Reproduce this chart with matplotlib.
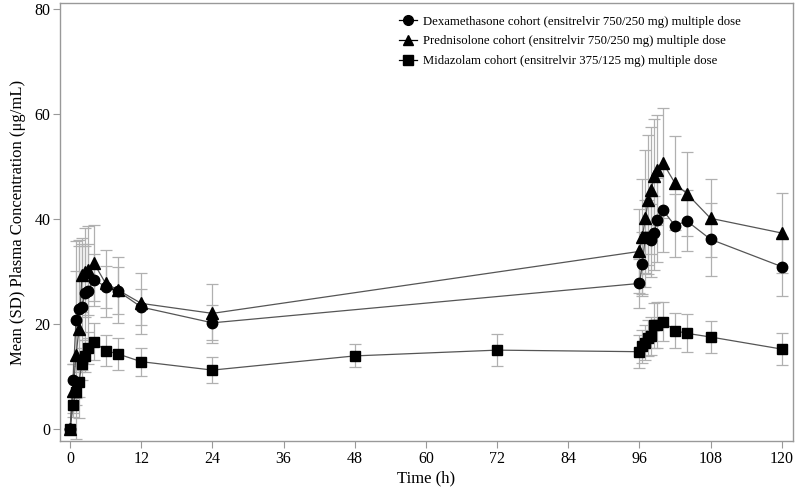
import matplotlib
matplotlib.use("Agg")
import matplotlib.pyplot as plt
from matplotlib.lines import Line2D

plt.rcParams['font.family'] = ['Liberation Serif', 'DejaVu Serif']

# Dexamethasone cohort
t_dex = [0, 0.5, 1, 1.5, 2, 2.5, 3, 4, 6, 8, 12, 24,
         96, 96.5, 97, 97.5, 98, 98.5, 99, 100, 102, 104, 108, 120]
m_dex = [0, 9.3, 20.8, 22.9, 23.3, 25.9, 26.3, 28.4, 27.1, 26.3, 23.2, 20.2,
         27.7, 31.4, 36.6, 36.5, 35.9, 37.3, 39.8, 41.6, 38.7, 39.6, 36.1, 30.9]
sd_dex = [0, 3, 15, 12, 12, 9, 9, 5, 4, 4.5, 3.5, 3.3,
          4.7, 6, 7, 7, 7, 7, 8, 8, 6, 5.8, 7, 5.6]

# Prednisolone cohort
t_pred = [0, 0.5, 1, 1.5, 2, 2.5, 3, 4, 6, 8, 12, 24,
          96, 96.5, 97, 97.5, 98, 98.5, 99, 100, 102, 104, 108, 120]
m_pred = [0, 7.3, 14.1, 19.0, 29.3, 29.8, 30.2, 31.6, 27.7, 26.5, 23.9, 22.0,
          33.8, 36.6, 40.1, 43.6, 45.4, 48.1, 49.3, 50.6, 46.8, 44.8, 40.1, 37.3]
sd_pred = [0, 5, 16, 17, 7, 8.5, 8.5, 7.2, 6.4, 6.3, 5.8, 5.6,
           8, 11, 13, 12.4, 12, 11, 10.5, 10.5, 9, 8, 7.4, 7.7]

# Midazolam cohort
t_mid = [0, 0.5, 1, 1.5, 2, 2.5, 3, 4, 6, 8, 12, 24, 48, 72,
         96, 96.5, 97, 97.5, 98, 98.5, 99, 100, 102, 104, 108, 120]
m_mid = [0, 4.6, 7.1, 9.0, 12.4, 13.9, 15.4, 16.6, 14.9, 14.3, 12.8, 11.2, 13.9, 15.0,
         14.7, 15.7, 16.4, 17.3, 17.7, 19.7, 19.8, 20.4, 18.7, 18.2, 17.5, 15.2]
sd_mid = [0, 1.5, 2.5, 3, 3, 3, 3, 3.5, 3, 3, 2.7, 2.4, 2.2, 3.1,
          3.1, 3.2, 3.3, 3.5, 3.6, 4.2, 4.3, 3.7, 3.3, 3.6, 3.1, 3.0]

labels = ["Dexamethasone cohort (ensitrelvir 750/250 mg) multiple dose",
          "Prednisolone cohort (ensitrelvir 750/250 mg) multiple dose",
          "Midazolam cohort (ensitrelvir 375/125 mg) multiple dose"]
x_ticks = [0, 12, 24, 36, 48, 60, 72, 84, 96, 108, 120]
y_ticks = [0, 20, 40, 60, 80]

fig = plt.figure(figsize=(7.96, 5.01), dpi=100)
ax = fig.add_axes([0.0754, 0.1198, 0.9208, 0.8742])

series = [(t_dex, m_dex, sd_dex, 'o'), (t_pred, m_pred, sd_pred, '^'), (t_mid, m_mid, sd_mid, 's')]
for t, m, s, mk in series:
    ax.errorbar(t, m, yerr=s, fmt='none', ecolor='#b0b0b0', elinewidth=0.9,
                capsize=4.5, capthick=0.9, zorder=1)
handles = []
for (t, m, s, mk), lab in zip(series, labels):
    ms = 7.5 if mk != '^' else 8
    ax.plot(t, m, color='#555555', lw=0.9, zorder=2)
    ax.plot(t, m, linestyle='none', marker=mk, ms=ms, color='black', zorder=3)
    handles.append(Line2D([], [], color='black', lw=0.9, marker=mk, ms=7))

ax.set_xlim(-1.7, 121.9)
ax.set_ylim(-2.3, 81.1)
ax.set_xticks(x_ticks)
ax.set_yticks(y_ticks)
for sp in ax.spines.values():
    sp.set_color('#999999')
    sp.set_linewidth(1.0)
ax.tick_params(axis='both', colors='#999999', labelcolor='black', labelsize=11.5,
               length=5, width=0.8, direction='out', pad=2)
ax.set_xlabel("Time (h)", fontsize=12, labelpad=3)
ax.set_ylabel("Mean (SD) Plasma Concentration (μg/mL)", fontsize=12, labelpad=6)

leg = ax.legend(handles, labels, loc='upper left', bbox_to_anchor=(0.447, 0.997),
                frameon=False, fontsize=9.2, handlelength=1.4, handletextpad=0.45,
                labelspacing=0.6)

fig.savefig("out.png", dpi=100)
